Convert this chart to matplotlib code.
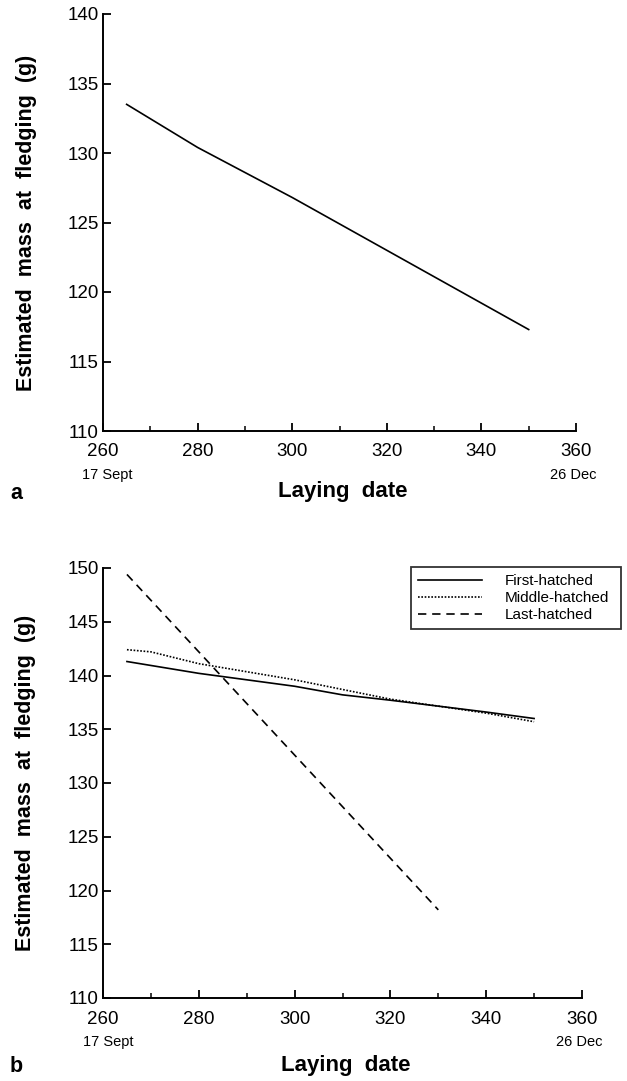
import matplotlib
matplotlib.use('Agg')
from matplotlib import pyplot as plt
from matplotlib.ticker import MultipleLocator
import matplotlib.transforms as mtransforms

plt.rcParams['font.family'] = ['Liberation Sans', 'DejaVu Sans']

# panel a: single fitted line
days_a = [265, 280, 300, 320, 340, 350]
mass_a = [133.5, 130.4, 126.8, 123.0, 119.2, 117.3]

# panel b: by hatching order
days_first = [265, 280, 300, 310, 320, 340, 350]
mass_first = [141.3, 140.2, 139.0, 138.2, 137.7, 136.6, 136.0]
days_middle = [265, 270, 280, 300, 320, 340, 350]
mass_middle = [142.4, 142.2, 141.1, 139.6, 137.8, 136.5, 135.7]
days_last = [265, 330]
mass_last = [149.4, 118.2]

LW = 1.2
W, H = 627, 1081


def style_axis(ax, ymax):
    ax.set_xlim(260, 360)
    ax.set_ylim(110, ymax)
    for s in ['top', 'right']:
        ax.spines[s].set_visible(False)
    for s in ['left', 'bottom']:
        ax.spines[s].set_linewidth(1.4)
    ax.xaxis.set_major_locator(MultipleLocator(20))
    ax.xaxis.set_minor_locator(MultipleLocator(10))
    ax.yaxis.set_major_locator(MultipleLocator(5))
    ax.tick_params(axis='both', which='major', direction='in', length=6, width=1.3,
                   labelsize=13.5, pad=3)
    ax.tick_params(axis='x', which='minor', direction='in', length=3.5, width=1.1)
    ax.tick_params(axis='x', which='major', pad=9)
    ax.set_ylabel('Estimated  mass  at  fledging  (g)', fontsize=15.5, fontweight='bold')
    ax.yaxis.set_label_coords(-0.14, 0.5)
    # dates under the end ticks
    off = -44 / (ax.get_position().height * H)
    trans = mtransforms.blended_transform_factory(ax.transData, ax.transAxes)
    ax.text(261, off, '17 Sept', transform=trans, ha='center', va='center', fontsize=10.5)
    ax.text(359.5, off, '26 Dec', transform=trans, ha='center', va='center', fontsize=10.5)


fig = plt.figure(figsize=(W / 100, H / 100), dpi=100)

ax_a = fig.add_axes([103 / W, 1 - 431 / H, (576 - 103) / W, (431 - 14) / H])
ax_a.plot(days_a, mass_a, color='black', lw=LW)
style_axis(ax_a, 140)
fig.text(343 / W, 1 - 492 / H, 'Laying  date', ha='center', va='center',
         fontsize=16, fontweight='bold')
fig.text(16 / W, 1 - 493 / H, 'a', ha='center', va='center', fontsize=15.5, fontweight='bold')

ax_b = fig.add_axes([103 / W, 1 - 998 / H, (582 - 103) / W, (998 - 568) / H])
ax_b.plot(days_first, mass_first, color='black', lw=LW, label='First-hatched')
ax_b.plot(days_middle, mass_middle, color='black', lw=LW, linestyle=(0, (1, 1)),
          label='Middle-hatched')
ax_b.plot(days_last, mass_last, color='black', lw=LW, linestyle=(0, (5, 3.5)),
          label='Last-hatched')
style_axis(ax_b, 150)
leg = ax_b.legend(loc='upper left', bbox_to_anchor=(0.643, 0.828, 0.438, 0.174),
                  mode='expand', fontsize=11, frameon=True, fancybox=False,
                  handlelength=4.2, handletextpad=1.5, borderpad=0.45, labelspacing=0.2,
                  borderaxespad=0)
leg.get_frame().set_edgecolor('black')
leg.get_frame().set_linewidth(1.3)
fig.text(346 / W, 1 - 1066 / H, 'Laying  date', ha='center', va='center',
         fontsize=16, fontweight='bold')
fig.text(16 / W, 1 - 1066 / H, 'b', ha='center', va='center', fontsize=15.5, fontweight='bold')

fig.savefig('out.png', dpi=100)
